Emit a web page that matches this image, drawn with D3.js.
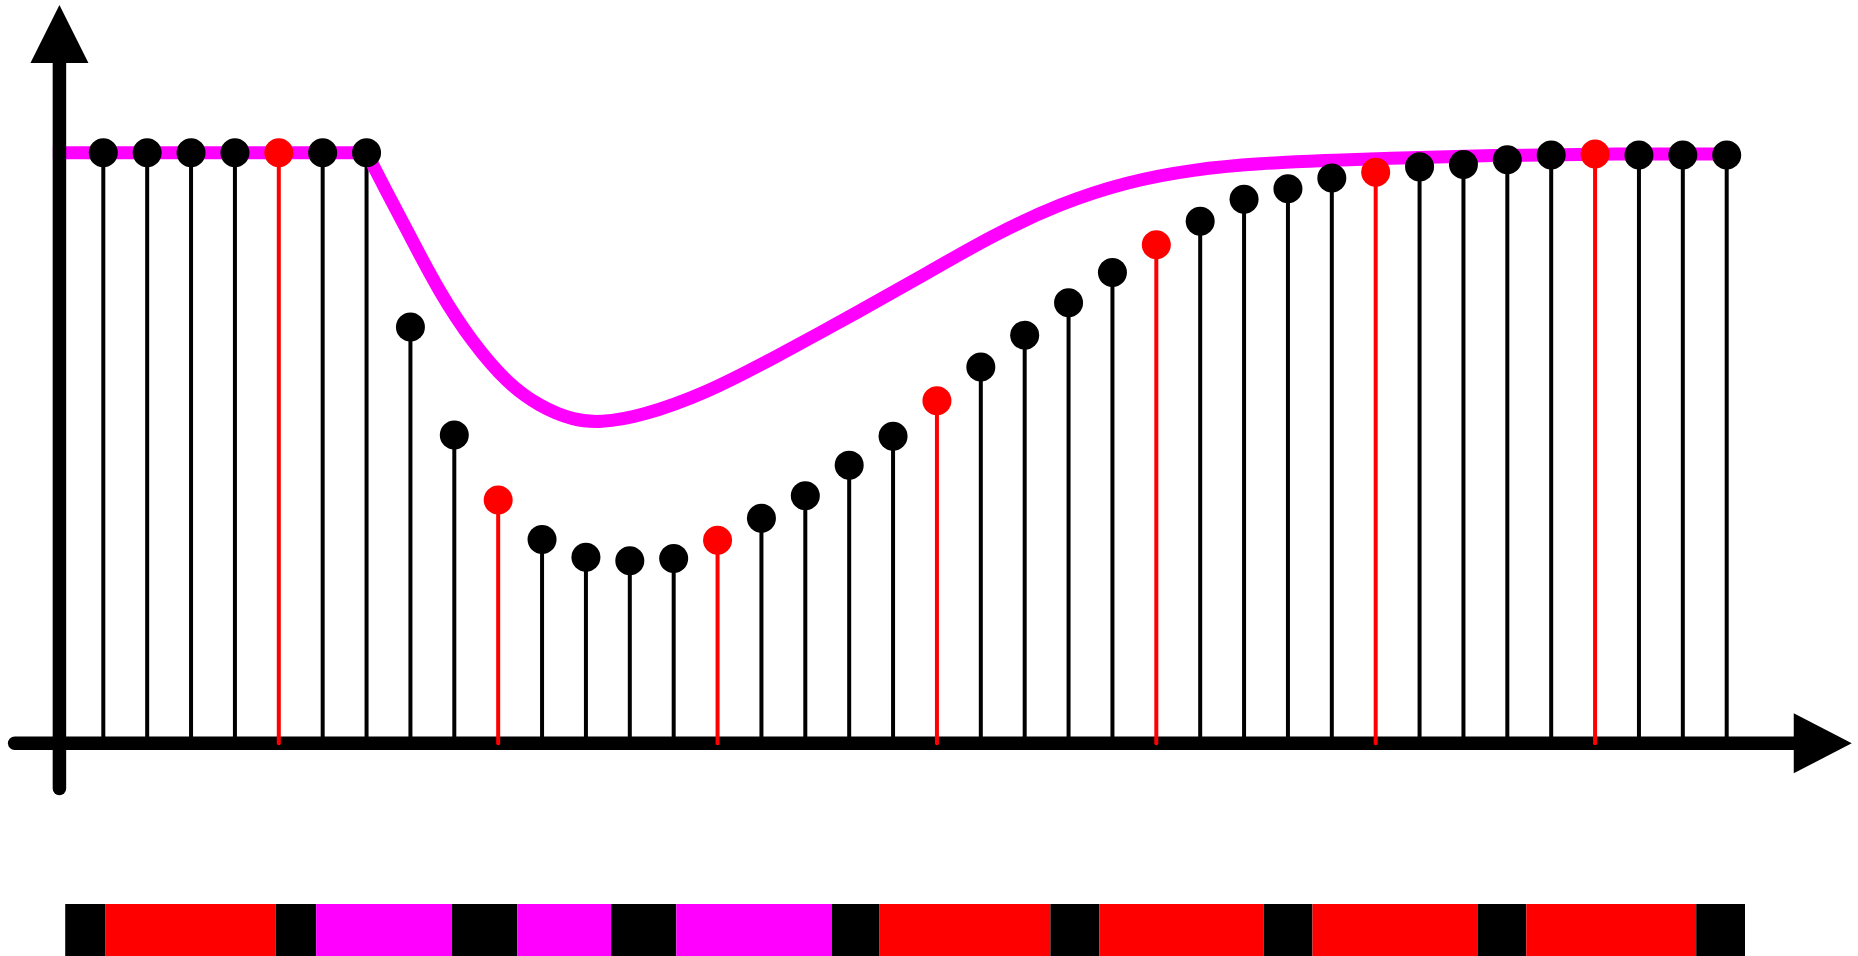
<!DOCTYPE html>
<html>
<head>
<meta charset="utf-8">
<script src="https://cdn.jsdelivr.net/npm/d3@7"></script>
<style>
html,body{margin:0;padding:0;background:#fff;overflow:hidden;}
svg{display:block;}
</style>
</head>
<body>
<svg id="chart" width="1858" height="956"></svg>
<script>
// ---- data ----
const sampleIndex = d3.range(0, 38);
const sampleValues = [
  1.0, 1.0, 1.0, 1.0, 1.0, 1.0, 1.0,
  0.705, 0.522, 0.412, 0.345, 0.315, 0.309, 0.313, 0.344,
  0.381, 0.419, 0.471, 0.520, 0.580, 0.637, 0.691, 0.746,
  0.797, 0.844, 0.884, 0.921, 0.939, 0.957, 0.967, 0.976,
  0.980, 0.988, 0.996, 0.998, 0.996, 0.996, 0.996
];
const highlightIdx = [4, 9, 14, 19, 24, 29, 34];

const flatX = [-1.15, 6.0];
const flatV = [1.0, 1.0];
const curveX = [6.0, 6.45, 6.92, 7.67, 8.43, 9.20, 9.95, 10.71, 11.32, 12.23,
  13.75, 15.27, 17.25, 18.77, 20.29, 21.81, 23.33, 24.85, 26.37, 27.89,
  29.10, 31.84, 34.5, 37.0];
const curveV = [1.0, 0.935, 0.869, 0.762, 0.677, 0.610, 0.570, 0.547, 0.543, 0.553,
  0.593, 0.652, 0.732, 0.796, 0.861, 0.914, 0.951, 0.972, 0.982, 0.987,
  0.990, 0.996, 0.998, 0.998];

const barEdges = [-0.868, 0.052, 3.932, 4.851, 7.949, 9.435, 11.573, 13.059, 16.601,
  17.682, 21.586, 22.699, 26.446, 27.559, 31.320, 32.432, 36.305, 37.417];
const barKinds = ["k","r","k","m","k","m","k","m","k","r","k","r","k","r","k","r","k"];

// ---- layout ----
const svg = d3.select("#chart");
const x = d3.scaleLinear().domain([0, 37]).range([103.3, 1726.7]);
const y = d3.scaleLinear().domain([0, 1]).range([743.3, 152.7]);
const colorOf = {k: "#000000", r: "#ff0000", m: "#ff00ff"};

const yAxisAt = -1;       // x index of the vertical axis
const yAxisLow = -0.0765; // bottom end (value units)
const yArrowTip = 1.25;
const xAxisLow = -2.02;
const xArrowTip = 39.85;
const arrowLen = 57, arrowHalf = 29;
const axisW = 13.5, stemW = 4;

const isRed = i => highlightIdx.includes(i);

// black stems (behind axis)
svg.append("g").selectAll("line")
  .data(sampleIndex.filter(i => !isRed(i)))
  .join("line")
  .attr("x1", i => x(i)).attr("x2", i => x(i))
  .attr("y1", y(0)).attr("y2", i => y(sampleValues[i]))
  .attr("stroke", "#000").attr("stroke-width", stemW);

// magenta continuous response
const mk = (xs, vs) => xs.map((v, i) => [v, vs[i]]);
svg.append("path")
  .attr("d", d3.line().x(d => x(d[0])).y(d => y(d[1]))(mk(flatX, flatV)))
  .attr("fill", "none").attr("stroke", "#ff00ff").attr("stroke-width", 13);
svg.append("path")
  .attr("d", d3.line().x(d => x(d[0])).y(d => y(d[1])).curve(d3.curveBasis)(mk(curveX, curveV)))
  .attr("fill", "none").attr("stroke", "#ff00ff").attr("stroke-width", 13)
  .attr("stroke-linejoin", "round");

// axes
const ax = svg.append("g");
ax.append("line")
  .attr("x1", x(yAxisAt)).attr("x2", x(yAxisAt))
  .attr("y1", y(yAxisLow)).attr("y2", y(yArrowTip) + arrowLen)
  .attr("stroke", "#000").attr("stroke-width", axisW).attr("stroke-linecap", "round");
ax.append("path")
  .attr("d", `M${x(yAxisAt)},${y(yArrowTip)} L${x(yAxisAt) - arrowHalf},${y(yArrowTip) + arrowLen + 1} L${x(yAxisAt) + arrowHalf},${y(yArrowTip) + arrowLen + 1} Z`)
  .attr("fill", "#000");
ax.append("line")
  .attr("x1", x(xAxisLow)).attr("x2", x(xArrowTip) - arrowLen)
  .attr("y1", y(0)).attr("y2", y(0))
  .attr("stroke", "#000").attr("stroke-width", axisW).attr("stroke-linecap", "round");
ax.append("path")
  .attr("d", `M${x(xArrowTip)},${y(0)} L${x(xArrowTip) - arrowLen - 1},${y(0) - arrowHalf - 1} L${x(xArrowTip) - arrowLen - 1},${y(0) + arrowHalf + 1} Z`)
  .attr("fill", "#000");

// red stems (on top of axis)
svg.append("g").selectAll("line")
  .data(highlightIdx)
  .join("line")
  .attr("x1", i => x(i)).attr("x2", i => x(i))
  .attr("y1", y(0)).attr("y2", i => y(sampleValues[i]))
  .attr("stroke", "#ff0000").attr("stroke-width", stemW).attr("stroke-linecap", "round");

// dots
svg.append("g").selectAll("circle")
  .data(sampleIndex)
  .join("circle")
  .attr("cx", i => x(i)).attr("cy", i => y(sampleValues[i]))
  .attr("r", 14.5)
  .attr("fill", i => isRed(i) ? "#ff0000" : "#000");

// bottom coded bar
svg.append("g").selectAll("rect")
  .data(barKinds.map((k, i) => ({k, a: barEdges[i], b: barEdges[i + 1]})))
  .join("rect")
  .attr("x", d => x(d.a)).attr("width", d => x(d.b) - x(d.a))
  .attr("y", 904).attr("height", 60)
  .attr("fill", d => colorOf[d.k]);
</script>
</body>
</html>
